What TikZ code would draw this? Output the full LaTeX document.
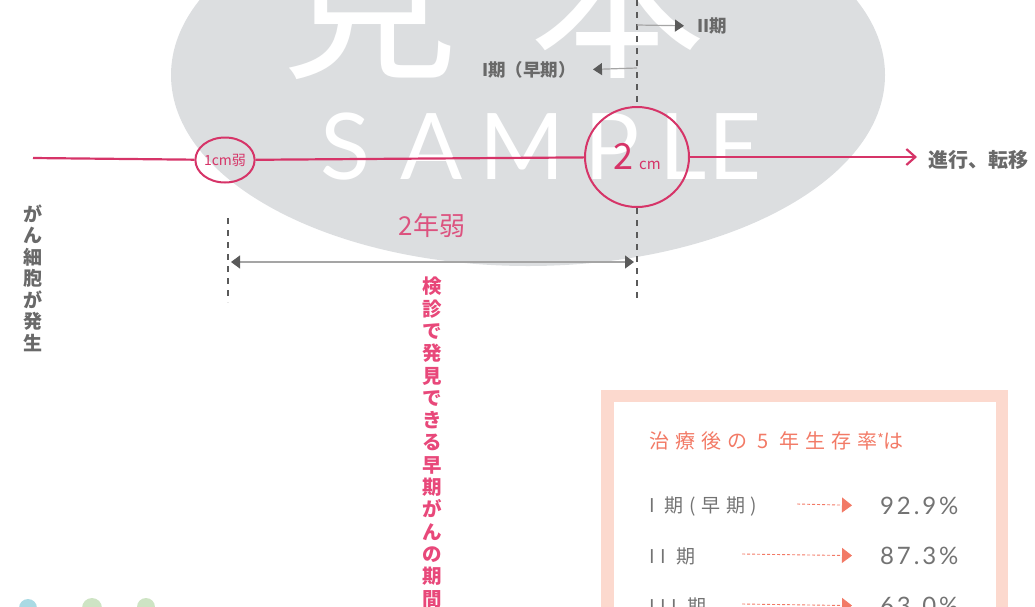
\documentclass[tikz,border=0pt]{standalone}
\usepackage{fontspec}
\setmainfont{Noto Sans CJK JP}
\newfontfamily\widefont[LetterSpace=30]{Noto Sans CJK JP}
\newfontfamily\numfont[LetterSpace=12]{Lato}
\newfontfamily\markfont{Lato}
\usetikzlibrary{arrows.meta,positioning,shapes.geometric}

\definecolor{wmGrey}{RGB}{220,222,224}
\definecolor{tumorRed}{RGB}{214,52,104}
\definecolor{periodPink}{RGB}{232,72,122}
\definecolor{labelGrey}{RGB}{105,105,105}
\definecolor{guideGrey}{RGB}{90,90,90}
\definecolor{spanGrey}{RGB}{165,165,165}
\definecolor{boxPink}{RGB}{252,217,206}
\definecolor{rateSalmon}{RGB}{242,122,102}
\definecolor{rowGrey}{RGB}{115,115,115}
\definecolor{dotBlue}{RGB}{170,218,228}
\definecolor{dotGreen}{RGB}{206,228,196}

\begin{document}
\begin{tikzpicture}[x=1pt, y=-1pt,
  tumor/.style={draw=tumorRed, line width=2.2pt},
  lump/.style={ellipse, draw=tumorRed, line width=2pt, inner sep=0pt, text=tumorRed},
  guide/.style={draw=guideGrey, line width=1.6pt, dash pattern=on 6pt off 6pt},
  spanarr/.style={draw=spanGrey, line width=1.2pt, {Triangle[length=9pt,width=13pt,color=guideGrey]}-{Triangle[length=9pt,width=13pt,color=guideGrey]}},
  stagearr/.style={draw=spanGrey, line width=1.2pt, -{Triangle[length=9pt,width=12pt,color=guideGrey]}},
  stage/.style={font=\bfseries\fontsize{17.5}{17.5}\selectfont, text=labelGrey, inner sep=0pt},
  vtext/.style={align=center, inner sep=0pt, font=\bfseries\fontsize{19}{21.5}\selectfont},
  raterow/.style={font=\widefont\fontsize{19}{19}\selectfont, text=rowGrey, anchor=west, inner sep=0pt},
  rateval/.style={font=\numfont\fontsize{24}{24}\selectfont, text=rowGrey, anchor=west, inner sep=0pt},
  ratearr/.style={draw=rateSalmon, line width=0.9pt, dash pattern=on 3pt off 2pt, -{Triangle[length=10pt,width=15pt]}, shorten >=28pt}
]
\useasboundingbox (0,0) rectangle (1035,606);
\begin{scope}
\clip (0,0) rectangle (1035,606);
% watermark
\fill[wmGrey] (528,75) ellipse [x radius=357pt, y radius=191pt];
\node[text=white, font=\fontsize{175}{175}\selectfont] (wm-mi) at (370,2) {見};
\node[text=white, font=\fontsize{175}{175}\selectfont] (wm-hon) at (618,-2) {本};
\foreach \ch/\px in {S/345,A/432,M/522,P/612,L/683,E/735}
  \node[text=white, font=\markfont\fontsize{92}{92}\selectfont] (wm-\ch) at (\px,147) {\ch};

% growth line
\coordinate (origin) at (33,158);
\coordinate (far) at (917,157);
\node[lump, minimum width=54pt, minimum height=45pt, font=\fontsize{14}{14}\selectfont] (small) at (225,160) {1cm弱};
\node[lump, minimum width=104pt, minimum height=100pt, font=\fontsize{36}{36}\selectfont] (big) at (637,157) {2\,{\fontsize{15}{15}\selectfont cm}};
\draw[tumor] (origin) -- (small);
\draw[tumor] (small) -- (big);
\draw[tumor, -{Straight Barb[length=9pt,width=16pt]}] (big) -- (far);
\node[font=\bfseries\fontsize{20}{20}\selectfont, text=labelGrey, anchor=west] (spread) at (925,160) {進行、転移};

% stage boundaries
\coordinate (g1a) at (228,218);
\coordinate (g1b) at (228,302);
\coordinate (g2a) at (637,0);
\coordinate (g2b) at (637,302);
\draw[guide] (g1a) -- (g1b);
\draw[guide] (g2a) -- (big.north);
\draw[guide] (big.south) -- (g2b);

\coordinate (s1) at (637,68);
\coordinate (s2) at (637,25);
\node[stage, anchor=east] (early) at (576,70) {I期（早期）};
\node[stage, anchor=west] (late) at (697,26) {II期};
\draw[stagearr, shorten >=17pt] (s1) -- (early.east);
\draw[stagearr, shorten >=13pt] (s2) -- (late.west);

\coordinate (p1) at (228,262);
\coordinate (p2) at (637,262);
\draw[spanarr, shorten <=3pt, shorten >=3pt] (p1) -- (p2);
\node[text=tumorRed!85, font=\fontsize{26}{26}\selectfont] (twoyears) at (432,226) {2年弱};

\node[vtext, text=labelGrey] (onset) at (33,278) {が\\ん\\細\\胞\\が\\発\\生};
\node[vtext, text=periodPink, anchor=north, font=\bfseries\fontsize{19.5}{22.3}\selectfont] (window) at (432,277) {検\\診\\で\\発\\見\\で\\き\\る\\早\\期\\が\\ん\\の\\期\\間};

% survival box
\draw[draw=boxPink, line width=12.5pt] (607.5,396) rectangle (1002,660);
\node[font=\widefont\fontsize{20}{20}\selectfont, text=rateSalmon, anchor=west, inner sep=0pt] (title) at (649,441) {治療後の 5 年生存率{\fontsize{14}{14}\selectfont\raisebox{4pt}{*}}は};

\node[raterow] (r1) at (649,506) {I 期(早期)};
\node[raterow] (r2) at (649,556) {II 期};
\node[raterow] (r3) at (649,606) {III 期};
\node[rateval] (v1) at (880,506) {92.9\%};
\node[rateval] (v2) at (880,556) {87.3\%};
\node[rateval] (v3) at (880,606) {63.0\%};
\coordinate (a1) at (797,504);
\coordinate (a2) at (742,554);
\coordinate (a3) at (742,604);
\draw[ratearr] (a1) -- (v1.west);
\draw[ratearr] (a2) -- (v2.west);
\draw[ratearr] (a3) -- (v3.west);

\fill[dotBlue] (28,608) circle (9pt);
\fill[dotGreen] (92,608) circle (10pt);
\fill[dotGreen] (146,607) circle (9pt);
\end{scope}
\end{tikzpicture}
\end{document}
